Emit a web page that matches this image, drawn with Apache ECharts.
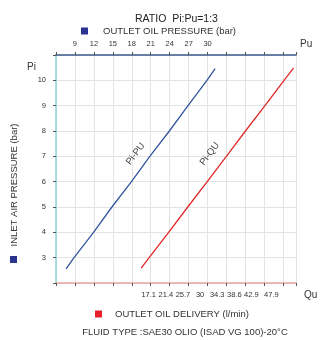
<!DOCTYPE html>
<html>
<head>
<meta charset="utf-8">
<script src="https://cdn.jsdelivr.net/npm/echarts@6/dist/echarts.min.js"></script>
<style>
html,body{margin:0;padding:0;background:#fff;}
#chart{width:330px;height:340px;}
</style>
</head>
<body>
<div id="chart"></div>
<script>
// ---- data ----
const bluePi = [2.56, 3.0, 4.0, 5.0, 6.0, 7.0, 8.0, 9.0, 10.0, 10.46];
const bluePu = [7.6, 8.85, 11.95, 14.85, 17.95, 20.85, 23.95, 26.9, 29.9, 31.2];
const redPi  = [2.59, 3.0, 4.0, 5.0, 6.0, 7.0, 8.0, 9.0, 10.0, 10.49];
const redQu  = [15.2, 17.2, 22.1, 26.9, 31.8, 36.6, 41.4, 46.3, 51.1, 53.5];
const puTickLabels = [9, 12, 15, 18, 21, 24, 27, 30];
const quTickLabels = [17.1, 21.4, 25.7, 30, 34.3, 38.6, 42.9, 47.9];
const piTickLabels = [3, 4, 5, 6, 7, 8, 9, 10];
const titleText = 'RATIO  Pi:Pu=1:3';
const bluName = 'OUTLET OIL PRESSURE (bar)';
const redName = 'OUTLET OIL DELIVERY (l/min)';
const fluidText = 'FLUID TYPE :SAE30 OLIO (ISAD VG 100)-20\u00B0C';
const yName = 'INLET AIR PRESSURE (bar)';

const FONT = 'Liberation Sans, Arial, sans-serif';
const TXT = '#333';
const zip = (xs, ys) => xs.map((x, i) => [x, ys[i]]);

const chart = echarts.init(document.getElementById('chart'), null, {renderer: 'canvas'});
const option = {
  animation: false,
  textStyle: {fontFamily: FONT},
  title: {
    text: titleText, left: 130, top: 9,
    textStyle: {fontSize: 10.5, fontWeight: 'normal', color: '#222', fontFamily: FONT}
  },
  legend: [
    {
      data: [{name: bluName, itemStyle: {color: '#2b3390'}}],
      left: 76, top: 21, icon: 'rect', itemWidth: 7, itemHeight: 7,
      selectedMode: false,
      textStyle: {fontSize: 9.5, color: TXT, padding: [0, 0, 0, 10], fontFamily: FONT}
    },
    {
      data: [{name: redName, itemStyle: {color: '#e8202a'}}],
      left: 90, top: 304, icon: 'rect', itemWidth: 7, itemHeight: 7,
      selectedMode: false,
      textStyle: {fontSize: 9.5, color: TXT, padding: [0, 0, 0, 8], fontFamily: FONT}
    }
  ],
  grid: {left: 56, top: 55, right: 34, bottom: 57, containLabel: false},
  xAxis: [
    {
      type: 'value', position: 'top', min: 6, max: 44, interval: 3,
      axisLine: {show: true, lineStyle: {color: '#3b5a8c', width: 1.5}},
      axisTick: {show: true, length: 3, lineStyle: {color: '#555'}},
      axisLabel: {customValues: puTickLabels, fontSize: 7.5, color: TXT, margin: 7, fontFamily: FONT},
      splitLine: {show: true, lineStyle: {color: '#e4e4e4', width: 1}}
    },
    {
      type: 'value', position: 'bottom', min: 6, max: 44, interval: 3,
      axisLine: {show: true, onZero: false, lineStyle: {color: '#e8a4a4', width: 1.5}},
      axisTick: {show: true, length: 3, lineStyle: {color: '#555'}},
      axisLabel: {show: false},
      splitLine: {show: false}
    },
    {
      type: 'value', position: 'bottom', min: -6.2, max: 54.1,
      axisLine: {show: false, onZero: false},
      axisTick: {show: false},
      axisLabel: {customValues: quTickLabels, fontSize: 7.5, color: TXT, margin: 8, fontFamily: FONT},
      splitLine: {show: false}
    }
  ],
  yAxis: [
    {
      type: 'value', min: 2, max: 11, interval: 1,
      axisLine: {show: true, onZero: false, lineStyle: {color: '#8fd0d8', width: 1.5}},
      axisTick: {show: true, length: 3, lineStyle: {color: '#555'}},
      axisLabel: {customValues: piTickLabels, fontSize: 7.5, color: TXT, margin: 10, fontFamily: FONT},
      splitLine: {show: true, lineStyle: {color: '#e4e4e4', width: 1}}
    }
  ],
  series: [
    {
      name: bluName, type: 'line', xAxisIndex: 0, yAxisIndex: 0,
      data: zip(bluePu, bluePi), showSymbol: false, symbol: 'none',
      lineStyle: {color: '#3355a0', width: 1.3}, itemStyle: {color: '#2b3390'},
      markPoint: {
        symbol: 'circle', symbolSize: 0, silent: true,
        label: {show: true, position: 'inside', formatter: 'Pi-PU', rotate: 53, fontSize: 9.5, color: '#444', fontFamily: FONT},
        data: [{coord: [18.6, 7.1]}]
      }
    },
    {
      name: redName, type: 'line', xAxisIndex: 2, yAxisIndex: 0,
      data: zip(redQu, redPi), showSymbol: false, symbol: 'none',
      lineStyle: {color: '#e02828', width: 1.3}, itemStyle: {color: '#e8202a'},
      markPoint: {
        symbol: 'circle', symbolSize: 0, silent: true,
        label: {show: true, position: 'inside', formatter: 'Pi-QU', rotate: 53, fontSize: 9.5, color: '#444', fontFamily: FONT},
        data: [{coord: [32.4, 7.1]}]
      }
    }
  ],
  graphic: [
    {type: 'text', left: 300, top: 39, style: {text: 'Pu', fontSize: 10, fill: TXT, fontFamily: FONT}},
    {type: 'text', left: 304, top: 290, style: {text: 'Qu', fontSize: 10, fill: TXT, fontFamily: FONT}},
    {type: 'text', left: 27, top: 62, style: {text: 'Pi', fontSize: 10, fill: TXT, fontFamily: FONT}},
    {type: 'text', x: 185, y: 332, style: {text: fluidText, fontSize: 9.5, fill: TXT, align: 'center', verticalAlign: 'middle', fontFamily: FONT}},
    {type: 'text', x: 14, y: 185, rotation: Math.PI / 2, style: {text: yName, fontSize: 9.5, fill: TXT, align: 'center', verticalAlign: 'middle', fontFamily: FONT}},
    {type: 'rect', shape: {x: 10, y: 256, width: 7, height: 7}, style: {fill: '#2b3390'}}
  ]
};
chart.setOption(option);
</script>
</body>
</html>
